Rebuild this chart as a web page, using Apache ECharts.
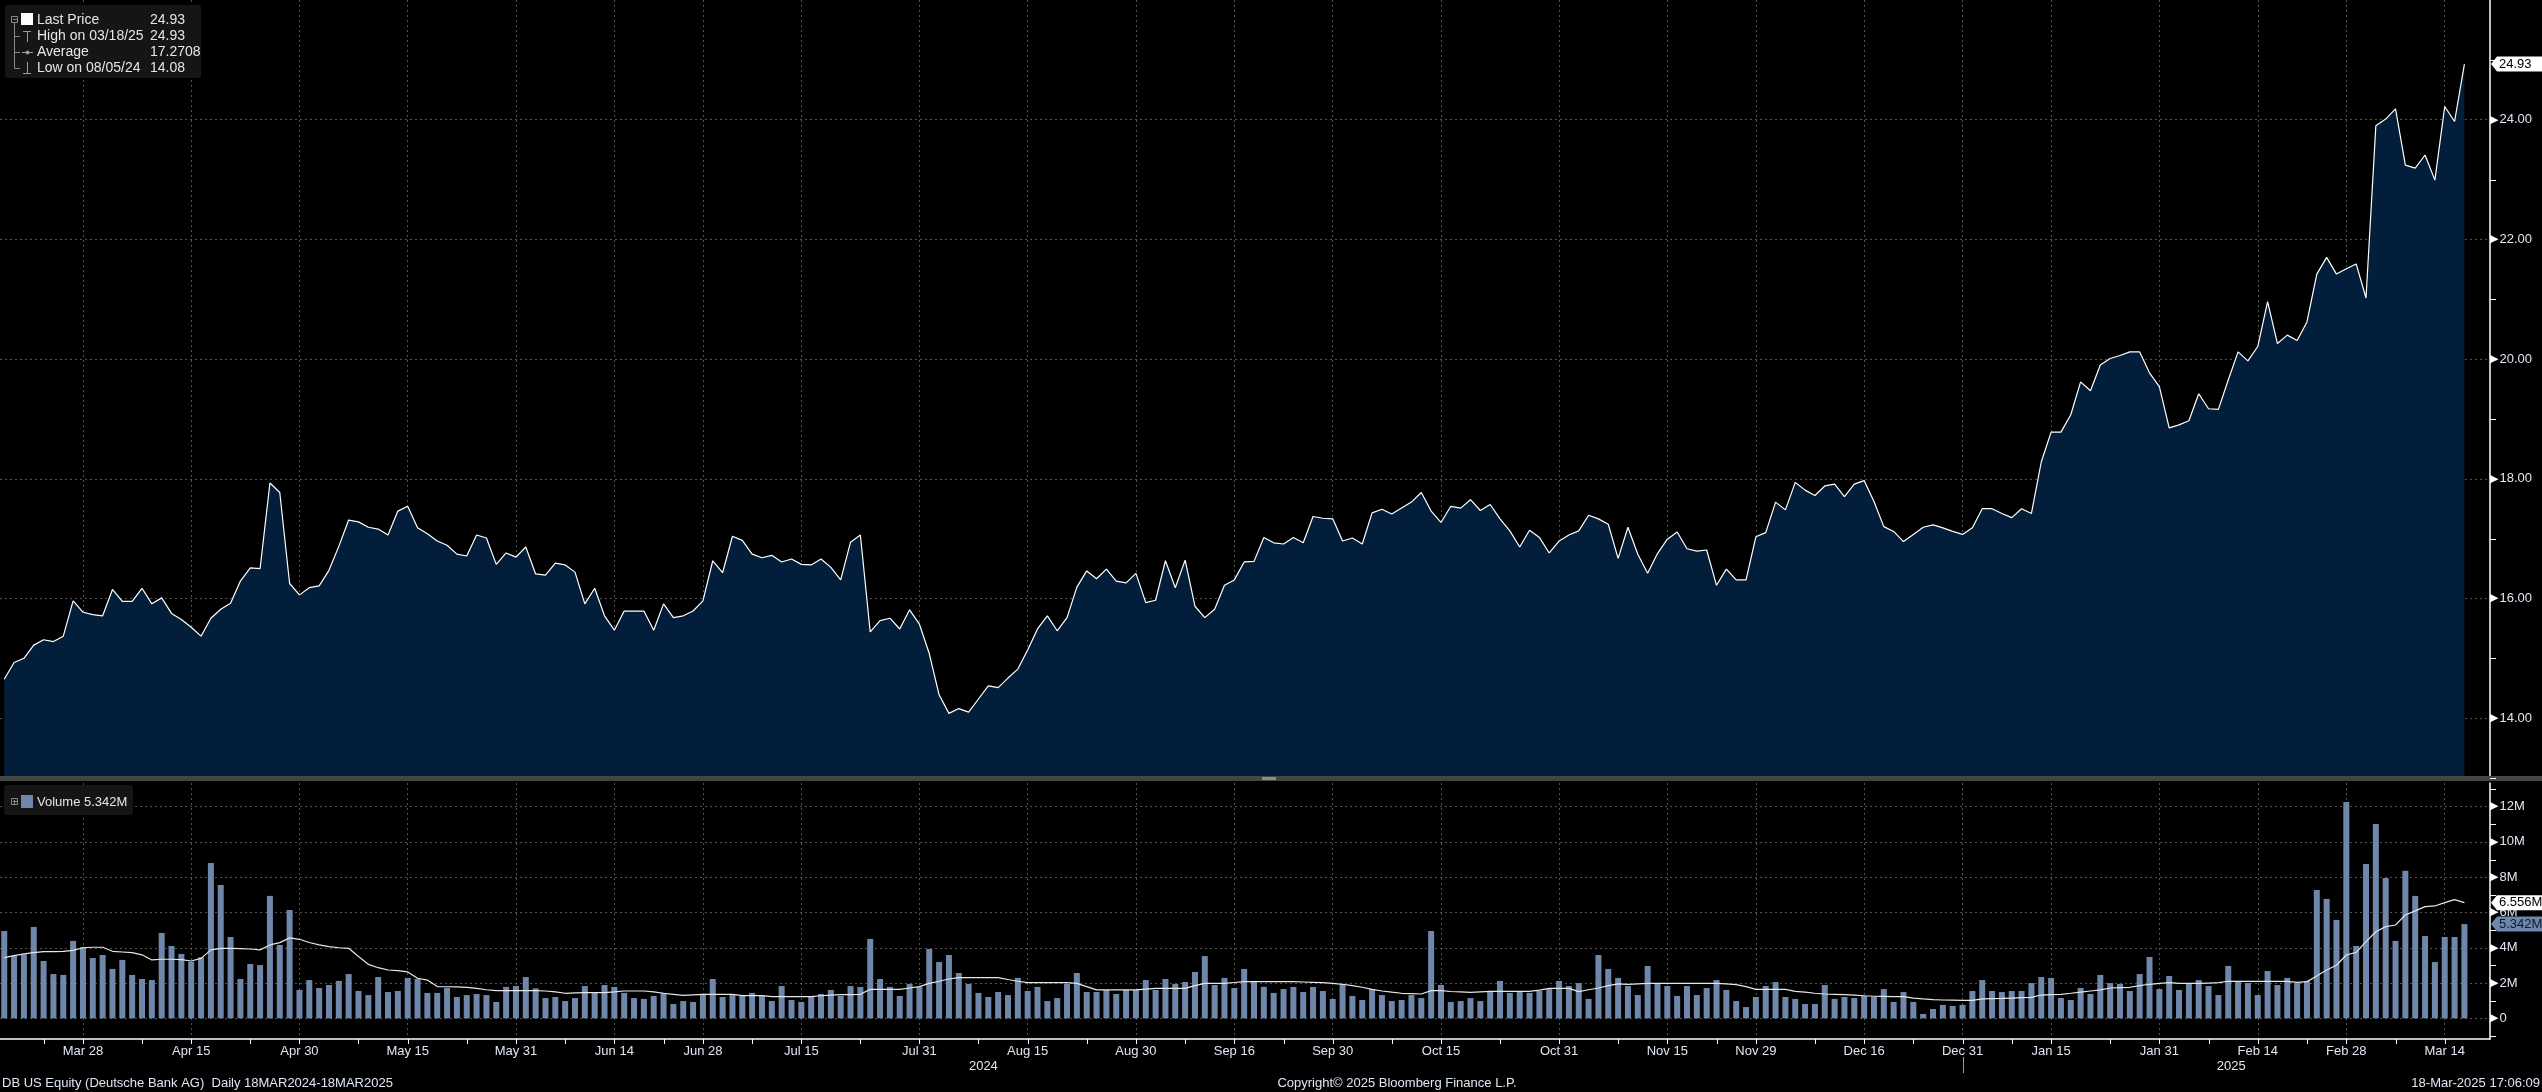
<!DOCTYPE html>
<html><head><meta charset="utf-8">
<script src="https://cdn.jsdelivr.net/npm/echarts@6/dist/echarts.min.js"></script>
<style>html,body{margin:0;padding:0;background:#000;overflow:hidden}#c{width:2542px;height:1092px}</style>
</head><body><div id="c"></div>
<script>
// ---------- DATA ----------
const holidays = ['2024-03-29','2024-05-27','2024-06-19','2024-07-04','2024-09-02','2024-11-28','2024-12-25','2025-01-01','2025-01-09','2025-01-20','2025-02-17'];
const firstDate = '2024-03-18', lastDate = '2025-03-18';

const price = [
14.65,14.93,15.00,15.22,15.31,15.28,15.37,15.96,15.77,15.73,
15.71,16.15,15.95,15.95,16.17,15.91,16.01,15.75,15.65,15.52,
15.37,15.67,15.82,15.92,16.29,16.51,16.50,17.93,17.77,16.25,
16.06,16.18,16.21,16.47,16.87,17.31,17.28,17.19,17.16,17.06,
17.46,17.54,17.18,17.08,16.96,16.89,16.74,16.71,17.06,17.01,
16.57,16.76,16.69,16.86,16.41,16.39,16.59,16.56,16.44,15.91,
16.17,15.71,15.47,15.79,15.79,15.79,15.47,15.91,15.68,15.71,
15.79,15.96,16.63,16.43,17.04,16.97,16.74,16.68,16.72,16.61,
16.66,16.57,16.56,16.66,16.52,16.31,16.94,17.06,15.44,15.63,
15.67,15.49,15.81,15.57,15.08,14.39,14.08,14.16,14.10,14.32,
14.54,14.51,14.67,14.82,15.14,15.49,15.71,15.46,15.68,16.19,
16.46,16.33,16.49,16.29,16.26,16.42,15.93,15.97,16.63,16.18,
16.64,15.87,15.68,15.82,16.22,16.31,16.61,16.62,17.02,16.93,
16.91,17.02,16.93,17.37,17.34,17.33,16.96,17.01,16.91,17.43,
17.49,17.41,17.51,17.61,17.77,17.46,17.27,17.54,17.51,17.65,
17.47,17.57,17.33,17.13,16.86,17.14,17.02,16.76,16.96,17.06,
17.13,17.39,17.33,17.24,16.67,17.19,16.74,16.42,16.75,16.99,
17.11,16.83,16.79,16.81,16.22,16.49,16.31,16.31,17.03,17.10,
17.61,17.48,17.94,17.81,17.72,17.88,17.91,17.70,17.91,17.97,
17.62,17.20,17.12,16.95,17.07,17.19,17.23,17.18,17.12,17.07,
17.18,17.50,17.50,17.42,17.35,17.50,17.42,18.28,18.78,18.78,
19.07,19.62,19.47,19.90,20.01,20.06,20.12,20.12,19.77,19.54,
18.85,18.90,18.97,19.42,19.17,19.16,19.65,20.12,19.97,20.21,
20.96,20.26,20.40,20.31,20.62,21.42,21.70,21.42,21.51,21.59,
21.02,23.90,24.01,24.18,23.24,23.19,23.41,22.99,24.22,23.97,24.93];

// volume in millions
const volume = [
4.95,3.55,3.63,5.18,3.25,2.51,2.46,4.39,4.03,3.42,
3.59,2.80,3.31,2.46,2.23,2.17,4.84,4.10,3.65,3.21,
3.46,8.81,7.56,4.61,2.23,3.08,3.02,6.94,4.16,6.14,
1.61,2.17,1.72,1.89,2.12,2.51,1.55,1.32,2.34,1.49,
1.55,2.29,2.23,1.44,1.44,1.72,1.21,1.32,1.38,1.32,
0.93,1.78,1.83,2.34,1.70,1.15,1.21,0.98,1.15,1.83,
1.44,1.89,1.78,1.44,1.15,1.10,1.27,1.44,0.81,0.98,
0.93,1.32,2.23,1.21,1.32,1.27,1.44,1.27,0.98,1.83,
1.04,0.93,1.21,1.38,1.61,1.27,1.83,1.78,4.50,2.23,
1.78,1.27,1.95,1.78,3.93,3.19,3.59,2.57,1.95,1.44,
1.21,1.49,1.32,2.29,1.55,1.78,0.98,1.15,1.95,2.57,
1.49,1.49,1.61,1.38,1.61,1.61,2.17,1.61,2.23,1.95,
2.06,2.63,3.53,1.89,2.29,1.72,2.80,2.12,1.78,1.44,
1.66,1.78,1.49,1.78,1.55,1.10,1.89,1.27,1.04,1.66,
1.32,0.98,1.04,1.32,1.15,4.95,1.89,0.93,0.98,1.15,
0.98,1.49,2.12,1.44,1.55,1.44,1.55,1.66,2.12,1.83,
2.00,1.10,3.59,2.80,2.29,1.83,1.32,2.97,1.95,1.83,
1.27,1.83,1.32,1.72,2.17,1.61,0.98,0.64,1.21,1.83,
2.06,1.21,1.10,0.81,0.81,1.89,1.10,1.21,1.15,1.27,
1.21,1.66,0.93,1.49,0.93,0.25,0.53,0.76,0.70,0.76,
1.55,2.17,1.55,1.49,1.55,1.55,2.00,2.34,2.29,1.15,
1.04,1.72,1.38,2.46,2.00,1.95,1.55,2.51,3.48,1.66,
2.40,1.61,2.00,2.17,1.83,1.32,2.97,2.12,2.00,1.32,
2.68,1.89,2.29,2.00,2.12,7.28,6.77,5.58,12.27,4.10,
8.75,11.02,7.96,4.39,8.36,6.94,4.67,3.19,4.61,4.61,5.342];

// volume moving-average line (millions)
const volumeAvg = [
3.44,3.55,3.65,3.72,3.78,3.78,3.80,3.85,4.00,4.03,
4.03,3.80,3.76,3.72,3.60,3.31,3.35,3.35,3.33,3.25,
3.40,3.88,3.97,3.97,3.95,3.93,3.88,4.16,4.29,4.56,
4.48,4.30,4.16,4.06,4.00,3.97,3.50,3.06,2.87,2.74,
2.70,2.63,2.27,2.17,1.80,1.79,1.78,1.75,1.70,1.62,
1.57,1.57,1.57,1.57,1.57,1.55,1.50,1.42,1.44,1.46,
1.46,1.46,1.50,1.55,1.55,1.55,1.50,1.42,1.36,1.30,
1.33,1.36,1.36,1.36,1.36,1.29,1.29,1.29,1.23,1.23,
1.23,1.23,1.23,1.28,1.32,1.34,1.34,1.36,1.64,1.64,
1.64,1.64,1.72,1.80,1.98,2.10,2.23,2.31,2.31,2.31,
2.31,2.31,2.20,2.10,2.02,2.02,2.02,2.02,2.02,1.98,
1.80,1.61,1.61,1.61,1.61,1.61,1.65,1.70,1.70,1.70,
1.70,1.85,1.98,1.98,1.98,2.03,2.08,2.08,2.08,2.08,
2.08,2.08,2.06,2.04,2.02,1.98,1.93,1.85,1.76,1.64,
1.55,1.48,1.42,1.40,1.38,1.57,1.57,1.52,1.50,1.47,
1.50,1.53,1.53,1.53,1.53,1.53,1.60,1.70,1.70,1.70,
1.51,1.62,1.72,1.85,1.95,1.92,1.95,1.98,1.98,1.98,
1.98,1.98,1.98,1.98,1.98,1.95,1.91,1.80,1.64,1.64,
1.64,1.64,1.53,1.48,1.42,1.38,1.36,1.34,1.32,1.28,
1.25,1.24,1.23,1.23,1.15,1.10,1.06,1.04,1.03,1.02,
1.02,1.10,1.12,1.13,1.15,1.17,1.19,1.32,1.34,1.36,
1.42,1.49,1.55,1.61,1.72,1.74,1.76,1.85,1.93,1.98,
2.02,1.98,1.98,1.98,2.00,2.02,2.10,2.10,2.10,2.10,
2.10,2.10,2.10,2.04,2.08,2.40,2.74,3.01,3.59,3.74,
4.35,4.91,5.20,5.29,5.86,6.09,6.33,6.37,6.56,6.73,6.556];

const xLabelDates = ['2024-03-28','2024-04-15','2024-04-30','2024-05-15','2024-05-31','2024-06-14','2024-06-28','2024-07-15','2024-07-31','2024-08-15','2024-08-30','2024-09-16','2024-09-30','2024-10-15','2024-10-31','2024-11-15','2024-11-29','2024-12-16','2024-12-31','2025-01-15','2025-01-31','2025-02-14','2025-02-28','2025-03-14'];
const priceTicks = [14,16,18,20,22,24];
const priceMinorTicks = [13,15,17,19,21,23,25];
const volumeTicks = [0,2,4,6,8,10,12];
const volumeMinorTicks = [-1,1,3,5,7,9,11,13];
const yearLabels = ['2024','2025'];
const legendRows = [['Last Price','24.93'],['High on 03/18/25','24.93'],['Average','17.2708'],['Low on 08/05/24','14.08']];

// ---------- BUILD ----------
const dates = [];
(function(){
  let t = Date.parse(firstDate + 'T00:00:00Z'); const end = Date.parse(lastDate + 'T00:00:00Z');
  while (t <= end) { const d = new Date(t); const wd = d.getUTCDay(); const s = d.toISOString().slice(0,10);
    if (wd !== 0 && wd !== 6 && holidays.indexOf(s) < 0) dates.push(s); t += 86400000; }
})();
const MON = ['Jan','Feb','Mar','Apr','May','Jun','Jul','Aug','Sep','Oct','Nov','Dec'];
const labelIdx = xLabelDates.map(d => dates.indexOf(d));
const tickIdx = [Math.round(labelIdx[0]/2)];
labelIdx.forEach((v,k) => { tickIdx.push(v); if (k < labelIdx.length-1) tickIdx.push(Math.round((v + labelIdx[k+1])/2)); });
const fmtDate = i => { const s = dates[Math.round(i)]; if (!s) return ''; return MON[+s.slice(5,7)-1] + ' ' + (+s.slice(8,10)); };

const FONT = '"Liberation Sans", Arial, sans-serif';
const LABEL = '#dfe6f1';
const X_MIN = -0.43, X_MAX = 252.6;
const VMIN = -1.172, VMAX = 13.34;
const split = { show: true, lineStyle: { color: 'rgba(150,150,150,0.55)', type: [2,3], width: 1 } };
const tri = { t: { color: '#ffffff', fontSize: 11, fontFamily: 'DejaVu Sans', padding: [0,1,0,0] }, n: { color: LABEL, fontSize: 13, fontFamily: FONT } };

const chart = echarts.init(document.getElementById('c'), null, { renderer: 'canvas' });
chart.setOption({
  backgroundColor: '#000000',
  animation: false,
  grid: [
    { left: 0, right: 52, top: 0, height: 778 },
    { left: 0, right: 52, top: 783, height: 256 }
  ],
  xAxis: [
    { gridIndex: 0, type: 'value', position: 'bottom', min: X_MIN, max: X_MAX, axisLine: { show: false, onZero: false },
      axisTick: { show: false, customValues: labelIdx }, axisLabel: { show: false }, splitLine: split },
    { gridIndex: 1, type: 'value', position: 'bottom', min: X_MIN, max: X_MAX,
      axisLine: { show: true, onZero: false, lineStyle: { color: '#ffffff', width: 1.5 } },
      axisTick: { show: false, customValues: labelIdx },
      axisLabel: { show: true, customValues: labelIdx, formatter: v => fmtDate(v), color: LABEL, fontSize: 13, fontFamily: FONT, margin: 6 },
      splitLine: split }
  ],
  yAxis: [
    { gridIndex: 0, type: 'value', position: 'right', min: 13, max: 26,
      axisLine: { show: true, onZero: false, lineStyle: { color: '#ffffff', width: 1.5 } },
      axisTick: { show: false, customValues: priceTicks },
      axisLabel: { customValues: priceTicks, margin: 0, formatter: v => '{t|\u25B6}{n|' + v.toFixed(2) + '}', rich: tri },
      splitLine: split },
    { gridIndex: 1, type: 'value', position: 'right', min: VMIN, max: VMAX,
      axisLine: { show: true, onZero: false, lineStyle: { color: '#ffffff', width: 1.5 } },
      axisTick: { show: false, customValues: volumeTicks },
      axisLabel: { customValues: volumeTicks, margin: 0, formatter: v => '{t|\u25B6}{n|' + (v === 0 ? '0' : v + 'M') + '}', rich: tri },
      splitLine: split }
  ],
  series: [
    { type: 'line', xAxisIndex: 0, yAxisIndex: 0, data: price.map((v,i) => [i, v]), symbol: 'none',
      lineStyle: { color: '#ffffff', width: 1.2 }, areaStyle: { color: '#031e3b', origin: 'start', opacity: 1 }, z: 3 },
    { type: 'bar', xAxisIndex: 1, yAxisIndex: 1, data: volume.map((v,i) => [i, v]), barWidth: 6,
      itemStyle: { color: '#6e87aa' }, z: 3 },
    { type: 'line', xAxisIndex: 1, yAxisIndex: 1, data: volumeAvg.map((v,i) => [i, v]), symbol: 'none',
      lineStyle: { color: '#e6e6e6', width: 1.2 }, z: 4 }
  ]
});

// ---------- OVERLAYS ----------
const G = [];
const txt = (x, y, text, o) => G.push(Object.assign({ type: 'text', x: x, y: y, z: 100,
  style: Object.assign({ text: text, fill: '#e6e6e6', font: '13px ' + FONT, align: 'left', verticalAlign: 'middle', textAlign: 'left', textVerticalAlign: 'middle' }, o || {}) }));
const line = (x1, y1, x2, y2, c, w) => G.push({ type: 'line', z: 100, shape: { x1, y1, x2, y2 }, style: { stroke: c || '#8a8a8a', lineWidth: w || 1 } });
const rect = (x, y, w, h, fill, r, z) => G.push({ type: 'rect', z: z || 99, shape: { x, y, width: w, height: h, r: r || 0 }, style: { fill } });

const axisX = chart.convertToPixel({ xAxisIndex: 0 }, X_MAX);
const axisY = chart.convertToPixel({ yAxisIndex: 1 }, VMIN);

// minor ticks on the value axes, placed through the axis scales
priceMinorTicks.forEach(v => { const y = Math.round(chart.convertToPixel({ yAxisIndex: 0 }, v)) + 0.5; line(axisX, y, axisX + 6, y, '#ffffff'); });
volumeMinorTicks.forEach(v => { const y = Math.round(chart.convertToPixel({ yAxisIndex: 1 }, v)) + 0.5; line(axisX, y, axisX + 6, y, '#ffffff'); });
// date ticks under the volume panel
tickIdx.forEach(i => { const x = Math.round(chart.convertToPixel({ xAxisIndex: 1 }, i)) + 0.5; line(x, axisY, x, axisY + 5, '#ffffff'); });

// panel separator
rect(0, 776, 2542, 5, '#454545', 0, 50);
rect(1262, 777, 14, 3, '#8c8c8c', 0, 51);

// price legend box
rect(5, 5, 196, 73, '#151515', 3);
G.push({ type: 'rect', z: 100, shape: { x: 11.5, y: 16.5, width: 6, height: 6 }, style: { fill: 'none', stroke: '#8a8a8a', lineWidth: 1 } });
line(13, 19.5, 17, 19.5);
rect(21, 13, 12, 12, '#ffffff', 0, 100);
line(14.5, 23, 14.5, 68.5); line(14.5, 36.5, 20, 36.5); line(14.5, 52.5, 20, 52.5); line(14.5, 68.5, 20, 68.5);
line(23, 31.5, 31, 31.5, '#9a9a9a'); line(27.5, 31.5, 27.5, 42, '#9a9a9a');
line(22, 52.5, 33, 52.5, '#9a9a9a'); G.push({ type: 'circle', z: 100, shape: { cx: 27.5, cy: 52.5, r: 2 }, style: { fill: '#9a9a9a' } });
line(27.5, 62, 27.5, 73, '#9a9a9a'); line(23, 73.5, 31, 73.5, '#9a9a9a');
const rowsY = [20.5, 36.5, 52.5, 68.5];
legendRows.forEach((r, k) => { txt(37, rowsY[k], r[0], { font: '14px ' + FONT }); txt(150, rowsY[k], r[1], { font: '14px ' + FONT }); });

// volume legend box
rect(4, 785, 129, 30, '#151515', 3);
G.push({ type: 'rect', z: 100, shape: { x: 11.5, y: 798.5, width: 6, height: 6 }, style: { fill: 'none', stroke: '#8a8a8a', lineWidth: 1 } });
line(13, 801.5, 17, 801.5); line(14.5, 800, 14.5, 804);
rect(21, 795, 12, 13, '#6e87aa', 0, 100);
txt(37, 802, 'Volume 5.342M', { font: '13px ' + FONT });

// last-value flags on the right axes
function flag(yPix, text, fill, color) {
  G.push({ type: 'polygon', z: 110, shape: { points: [[axisX + 1, yPix], [axisX + 7, yPix - 7.5], [2542, yPix - 7.5], [2542, yPix + 7.5], [axisX + 7, yPix + 7.5]] }, style: { fill: fill } });
  txt(axisX + 9, yPix, text, { fill: color, font: '13px ' + FONT });
  G[G.length - 1].z = 111;
}
flag(chart.convertToPixel({ yAxisIndex: 0 }, price[price.length - 1]), price[price.length - 1].toFixed(2), '#ffffff', '#000000');
flag(chart.convertToPixel({ yAxisIndex: 1 }, volumeAvg[volumeAvg.length - 1]), volumeAvg[volumeAvg.length - 1].toFixed(3) + 'M', '#ffffff', '#000000');
flag(chart.convertToPixel({ yAxisIndex: 1 }, volume[volume.length - 1]), volume[volume.length - 1].toFixed(3) + 'M', '#6e87aa', '#0d1a2e');

// year labels + year divider
const decIdx = dates.indexOf('2024-12-31');
const yx1 = chart.convertToPixel({ xAxisIndex: 1 }, decIdx / 2);
const yx2 = chart.convertToPixel({ xAxisIndex: 1 }, (decIdx + 1 + X_MAX) / 2);
const divX = Math.round(chart.convertToPixel({ xAxisIndex: 1 }, decIdx)) + 0.5;
line(divX, 1057, divX, 1073, '#9a9a9a');
txt(yx1, 1066, yearLabels[0], { fill: LABEL, align: 'center', textAlign: 'center' });
txt(yx2, 1066, yearLabels[1], { fill: LABEL, align: 'center', textAlign: 'center' });

// footer
txt(2, 1083, 'DB US Equity (Deutsche Bank AG)  Daily 18MAR2024-18MAR2025', { fill: LABEL });
txt(1397, 1083, 'Copyright\u00A9 2025 Bloomberg Finance L.P.', { fill: LABEL, align: 'center', textAlign: 'center' });
txt(2540, 1083, '18-Mar-2025 17:06:09', { fill: LABEL, align: 'right', textAlign: 'right' });

chart.setOption({ graphic: { elements: G } });
</script></body></html>
